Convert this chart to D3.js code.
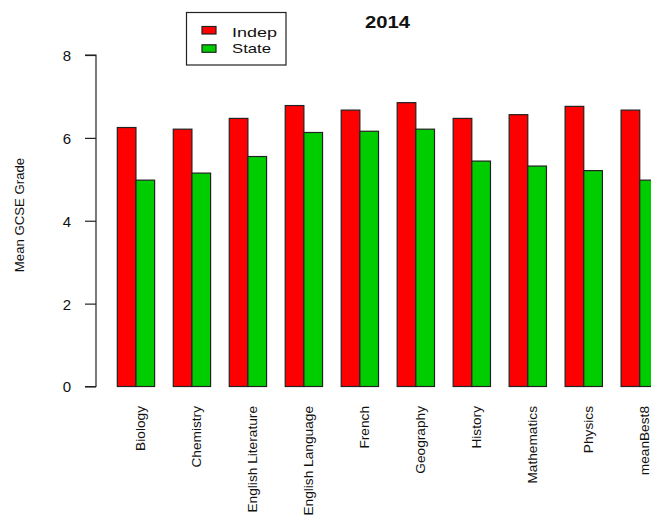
<!DOCTYPE html>
<html>
<head>
<meta charset="utf-8">
<script src="https://cdn.jsdelivr.net/npm/d3@7"></script>
<style>
  html, body { margin: 0; padding: 0; background: #fff; }
  svg { display: block; font-family: "Liberation Sans", Arial, sans-serif; }
</style>
</head>
<body>
<svg id="chart" width="651" height="520"></svg>
<script>
const categories = ["Biology", "Chemistry", "English Literature", "English Language", "French",
  "Geography", "History", "Mathematics", "Physics", "meanBest8"];
const seriesNames = ["Indep", "State"];
const indepValues = [6.25, 6.21, 6.47, 6.78, 6.67, 6.85, 6.47, 6.56, 6.76, 6.67];
const stateValues = [4.98, 5.15, 5.55, 6.13, 6.16, 6.21, 5.44, 5.32, 5.21, 4.98];
const yTicks = [0, 2, 4, 6, 8];
const colors = { Indep: "#FF0000", State: "#00CD00" };

const svg = d3.select("#chart");

const x0 = d3.scaleBand().domain(categories).range([117.3, 658.4]).paddingInner(1/3).paddingOuter(0);
const x1 = d3.scaleBand().domain(seriesNames).range([0, x0.bandwidth()]);
const y = d3.scaleLinear().domain([0, 8]).range([386.5, 55]);

const data = categories.map((c, i) => ({ cat: c, Indep: indepValues[i], State: stateValues[i] }));

// bars
const g = svg.append("g");
const groups = g.selectAll("g.grp").data(data).enter().append("g")
  .attr("transform", d => `translate(${x0(d.cat)},0)`);
groups.selectAll("rect").data(d => seriesNames.map(s => ({ s, v: d[s] }))).enter().append("rect")
  .attr("x", d => x1(d.s))
  .attr("width", x1.bandwidth())
  .attr("y", d => y(d.v))
  .attr("height", d => y(0) - y(d.v))
  .attr("fill", d => colors[d.s])
  .attr("stroke", "#222")
  .attr("stroke-width", 1.2);

// y axis
const yAxis = d3.axisLeft(y).tickValues(yTicks).tickSize(11).tickPadding(11).tickFormat(d3.format("d"));
const ya = svg.append("g").attr("transform", "translate(96,0)").call(yAxis);
ya.select(".domain").attr("stroke", "#222").attr("stroke-width", 1.2).attr("d", `M-11,${y(0)}H0V${y(8)}H-11`);
ya.selectAll(".tick line").attr("stroke", "#222").attr("stroke-width", 1.2);
ya.selectAll(".tick text").attr("font-size", 15).attr("fill", "#111")
  .attr("text-anchor", "middle").attr("x", -29).attr("dy", "0.36em");

// x labels
svg.append("g").selectAll("text").data(categories).enter().append("text")
  .attr("transform", d => `translate(${x0(d) + x0.bandwidth() / 2 + 4},406) rotate(-90)`)
  .attr("text-anchor", "end")
  .attr("dy", "0.35em")
  .attr("font-size", 13.7)
  .attr("fill", "#111")
  .text(d => d);

// y label
svg.append("text")
  .attr("transform", "translate(19,215) rotate(-90)")
  .attr("text-anchor", "middle")
  .attr("dy", "0.35em")
  .attr("font-size", 13.2)
  .attr("fill", "#111")
  .text("Mean GCSE Grade");

// title
svg.append("text")
  .attr("x", 365).attr("y", 28.3)
  .attr("font-size", 16)
  .attr("font-weight", "bold")
  .attr("fill", "#111")
  .attr("textLength", 45)
  .attr("lengthAdjust", "spacingAndGlyphs")
  .text("2014");

// legend
const legendWidths = { Indep: 45, State: 39 };
const lg = svg.append("g");
lg.append("rect").attr("x", 186.5).attr("y", 12.5).attr("width", 99.5).attr("height", 52.5)
  .attr("fill", "#fff").attr("stroke", "#222").attr("stroke-width", 1.2);
seriesNames.forEach((s, i) => {
  lg.append("rect").attr("x", 202).attr("y", 26.5 + i * 18.3).attr("width", 14).attr("height", 7.5)
    .attr("fill", colors[s]).attr("stroke", "#222").attr("stroke-width", 1.2);
  lg.append("text").attr("x", 232).attr("y", 37.3 + i * 15.6)
    .attr("font-size", 13.5).attr("fill", "#111")
    .attr("textLength", legendWidths[s]).attr("lengthAdjust", "spacingAndGlyphs")
    .text(s);
});
</script>
</body>
</html>
